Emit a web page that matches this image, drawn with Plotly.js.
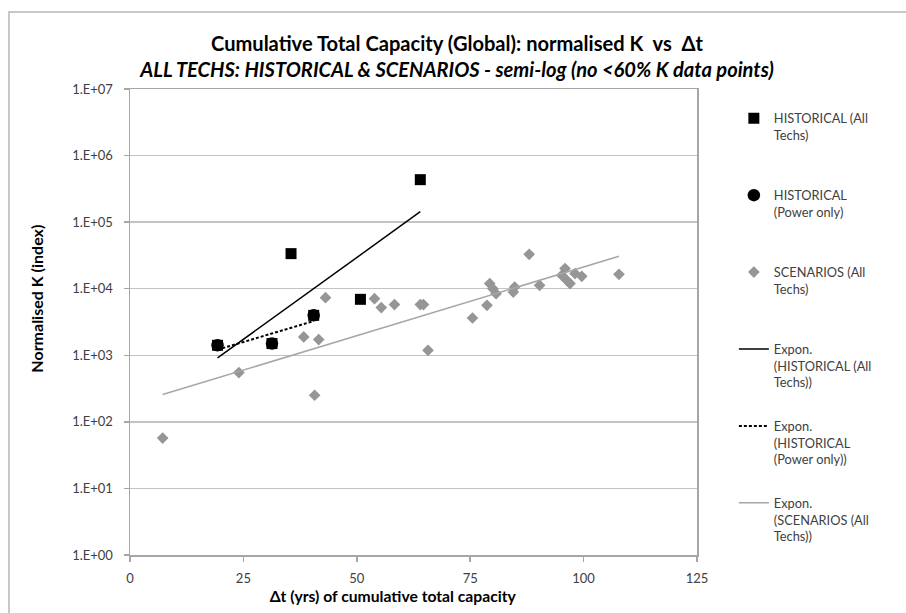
<!DOCTYPE html>
<html><head><meta charset="utf-8">
<script src="https://cdn.plot.ly/plotly-3.0.1.min.js"></script>
<style>body{margin:0;background:#fff}#chart{width:906px;height:613px}</style>
</head><body><div id="chart"></div>
<script>
// ---- data ----
const histAllX = [19.3, 31.3, 35.5, 40.5, 50.8, 64.0];
const histAllY = [1413, 1500, 33650, 3981, 6930, 434600];
const histPowerX = [19.3, 31.3, 40.5];
const histPowerY = [1413, 1500, 3981];
const scenX = [7.2, 24.0, 38.3, 41.6, 40.7, 43.1, 53.9, 55.4, 58.3, 64.0, 64.7, 65.7, 75.5, 78.7, 79.3, 80.0, 80.7, 84.8, 84.5, 90.3, 88.0, 95.9, 95.2, 96.3, 97.0, 98.1, 99.6, 107.8];
const scenY = [57, 550, 1884, 1722, 251, 7345, 7096, 5200, 5768, 5768, 5768, 1189, 3631, 5636, 11940, 10020, 8433, 10617, 8913, 11246, 32885, 20045, 15886, 13366, 11940, 16866, 15346, 16444];
const yTickVals = [1, 10, 100, 1000, 10000, 100000, 1000000, 10000000];
const yTickText = ['1.E+00', '1.E+01', '1.E+02', '1.E+03', '1.E+04', '1.E+05', '1.E+06', '1.E+07'];
const xTickVals = [0, 25, 50, 75, 100, 125];
const seriesNames = [
  'HISTORICAL (All<br>Techs)<br> ',
  'HISTORICAL<br>(Power only)<br> ',
  'SCENARIOS (All<br>Techs)<br> ',
  'Expon.<br>(HISTORICAL (All<br>Techs))',
  'Expon.<br>(HISTORICAL<br>(Power only))',
  'Expon.<br>(SCENARIOS (All<br>Techs))'
];

// Excel-style exponential trendline (least squares on log y)
function expFit(xs, ys) {
  const n = xs.length;
  const ly = ys.map(v => Math.log10(v));
  const mx = xs.reduce((a, b) => a + b, 0) / n;
  const my = ly.reduce((a, b) => a + b, 0) / n;
  let sxy = 0, sxx = 0;
  for (let i = 0; i < n; i++) { sxy += (xs[i] - mx) * (ly[i] - my); sxx += (xs[i] - mx) ** 2; }
  const b = sxy / sxx, a = my - b * mx;
  const x0 = Math.min(...xs), x1 = Math.max(...xs);
  return { x: [x0, x1], y: [Math.pow(10, a + b * x0), Math.pow(10, a + b * x1)] };
}
const fitAll = expFit(histAllX, histAllY);
const fitPow = expFit(histPowerX, histPowerY);
const fitScen = expFit(scenX, scenY);

const FONT = 'Lato, "Open Sans", sans-serif';
const pad = n => '&nbsp;'.repeat(n);
const traces = [
  { x: histAllX, y: histAllY, mode: 'markers', type: 'scatter', name: seriesNames[0], legendgroup: 'g1',
    marker: { symbol: 'square', size: 11, color: '#000' } },
  { x: histPowerX, y: histPowerY, mode: 'markers', type: 'scatter', name: seriesNames[1], legendgroup: 'g2',
    marker: { symbol: 'circle', size: 12.5, color: '#000' } },
  { x: scenX, y: scenY, mode: 'markers', type: 'scatter', name: seriesNames[2], legendgroup: 'g3',
    marker: { symbol: 'diamond', size: 9, color: '#969696' } },
  { x: fitAll.x, y: fitAll.y, mode: 'lines', type: 'scatter', name: seriesNames[3], legendgroup: 'g4',
    line: { color: '#000', width: 1.5 } },
  { x: fitPow.x, y: fitPow.y, mode: 'lines', type: 'scatter', name: seriesNames[4], legendgroup: 'g5',
    line: { color: '#000', width: 2, dash: '3px,2px' } },
  { x: fitScen.x, y: fitScen.y, mode: 'lines', type: 'scatter', name: seriesNames[5], legendgroup: 'g6',
    line: { color: '#a6a6a6', width: 1.5 } }
];

const layout = {
  width: 906, height: 613,
  margin: { l: 130, r: 209, t: 89, b: 58 },
  paper_bgcolor: '#fff', plot_bgcolor: '#fff',
  font: { family: FONT, color: '#404040' },
  title: {
    text: 'Cumulative Total Capacity (Global): normalised K&nbsp; vs&nbsp; Δt<br><i>ALL TECHS: HISTORICAL &amp; SCENARIOS - semi-log (no &lt;60% K data points)</i>',
    font: { family: FONT, size: 20.1, weight: 'bold', color: '#000' },
    x: 457 / 906, xanchor: 'center', xref: 'container',
    y: 1 - 50.5 / 613, yanchor: 'middle', yref: 'container'
  },
  xaxis: {
    range: [0, 125], tickvals: xTickVals, ticktext: xTickVals.map(String),
    showgrid: false, zeroline: false,
    showline: true, linecolor: '#a6a6a6', linewidth: 1.5, mirror: true,
    ticks: 'outside', ticklen: 5, tickcolor: '#a6a6a6', tickwidth: 1.5,
    ticklabelstandoff: 6,
    tickfont: { family: FONT, size: 13, color: '#404040' },
    title: { text: 'Δt (yrs) of cumulative total capacity' + pad(11), font: { family: FONT, size: 15.7, weight: 'bold', color: '#000' }, standoff: 6 }
  },
  yaxis: {
    type: 'log', range: [0, 7], tickvals: yTickVals, ticktext: yTickText,
    showgrid: true, gridcolor: '#c4c4c4', gridwidth: 1.5, zeroline: false,
    showline: true, linecolor: '#a6a6a6', linewidth: 1.5, mirror: true,
    ticks: 'outside', ticklen: 5, tickcolor: '#a6a6a6', tickwidth: 1.5,
    ticklabelstandoff: 8,
    tickfont: { family: FONT, size: 13, color: '#404040' },
    title: { text: pad(12) + 'Normalised K (index)', font: { family: FONT, size: 16, weight: 'bold', color: '#000' }, standoff: 24 }
  },
  showlegend: true,
  legend: {
    x: 1.065, xanchor: 'left', y: 0.969, yanchor: 'top',
    traceorder: 'grouped', tracegroupgap: 24, valign: 'top',
    font: { family: FONT, size: 12.8, color: '#404040' },
    bgcolor: 'rgba(0,0,0,0)'
  },
  shapes: [
    { type: 'rect', xref: 'paper', yref: 'paper',
      x0: (9 - 130) / 567, x1: 1.6, y0: -0.3, y1: (555 - 12) / 466,
      line: { color: '#c8c8c8', width: 2 }, fillcolor: 'rgba(0,0,0,0)', layer: 'below' }
  ]
};

Plotly.newPlot('chart', traces, layout, { displayModeBar: false, staticPlot: true });
</script>
</body></html>
